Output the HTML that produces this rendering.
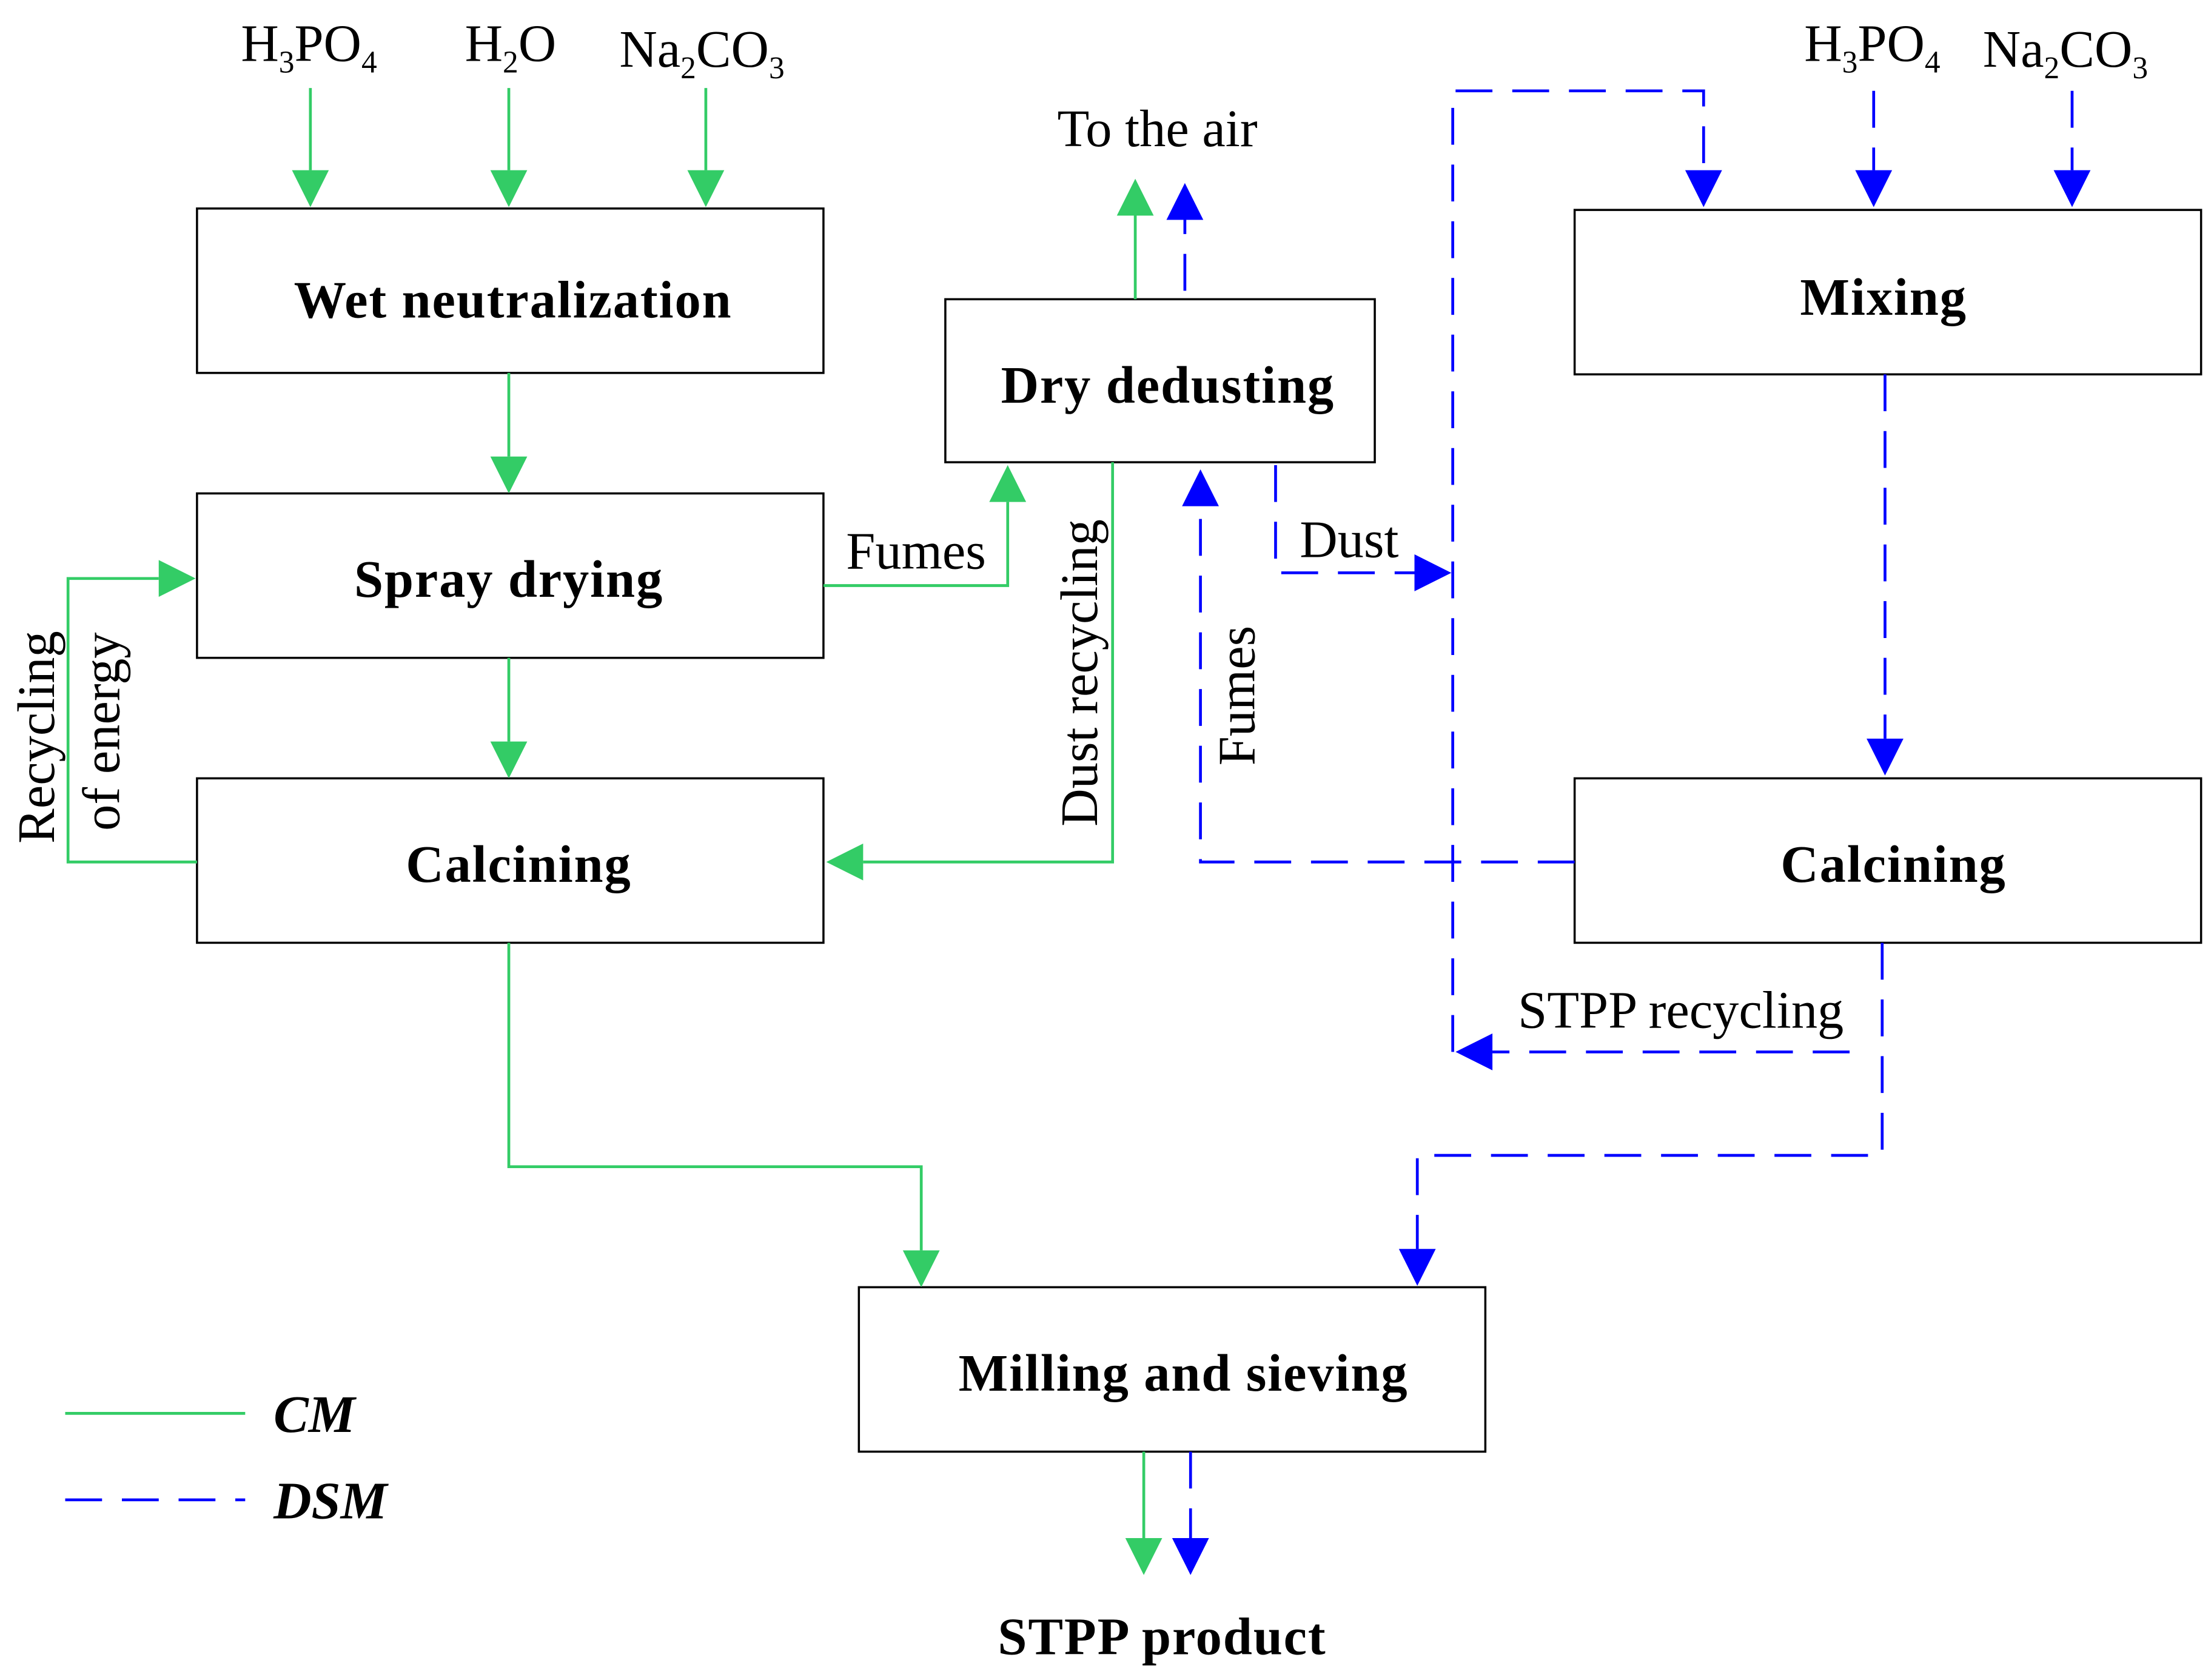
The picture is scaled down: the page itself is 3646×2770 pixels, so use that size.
<!DOCTYPE html>
<html><head><meta charset="utf-8"><style>
html,body{margin:0;padding:0;background:#fff;}
svg{display:block;}
text{font-family:"Liberation Serif",serif;}
.b{font-weight:bold;font-size:37px;letter-spacing:0.8px;}
.l{font-size:37px;}
</style></head><body>
<svg width="3646" height="2770" viewBox="0 0 1560 1185" xmlns="http://www.w3.org/2000/svg">
<g fill="none" stroke="#000" stroke-width="1.5">
<rect x="139" y="147" width="442" height="116"/>
<rect x="139" y="348" width="442" height="116"/>
<rect x="139" y="549" width="442" height="116"/>
<rect x="667" y="211" width="303" height="115"/>
<rect x="1111" y="148" width="442" height="116"/>
<rect x="1111" y="549" width="442" height="116"/>
<rect x="606" y="908" width="442" height="116"/>
</g>
<g text-anchor="middle">
<text x="362" y="224" class="b">Wet neutralization</text>
<text x="359" y="421" class="b">Spray drying</text>
<text x="366" y="622" class="b">Calcining</text>
<text x="824" y="284" class="b">Dry dedusting</text>
<text x="1329" y="222" class="b">Mixing</text>
<text x="1336" y="622" class="b">Calcining</text>
<text x="835" y="981" class="b">Milling and sieving</text>
<text x="820" y="1167" class="b">STPP product</text>
</g>
<g stroke="#33cc66" stroke-width="2" fill="none">
<path d="M219 62V120M359 62V120M498 62V120"/>
<path d="M359 263V322M359 464V523"/>
<path d="M139 608H48V408H112"/>
<path d="M581 413H711V354"/>
<path d="M801 211V152"/>
<path d="M785 326V608H609"/>
<path d="M359 665V823H650V882"/>
<path d="M807 1024V1085"/>
<path d="M46 997H173"/>
</g>
<g fill="#33cc66">
<path d="M206 120H232L219 146Z"/><path d="M346 120H372L359 146Z"/><path d="M485 120H511L498 146Z"/>
<path d="M346 322H372L359 348Z"/><path d="M346 523H372L359 549Z"/>
<path d="M112 395V421L138 408Z"/>
<path d="M698 354H724L711 328Z"/>
<path d="M788 152H814L801 126Z"/>
<path d="M609 595V621L583 608Z"/>
<path d="M637 882H663L650 908Z"/>
<path d="M794 1085H820L807 1111Z"/>
</g>
<g stroke="#0000ff" stroke-width="2" fill="none" stroke-dasharray="26,14">
<path d="M836 205V155"/>
<path d="M1111 608H847V357"/>
<path d="M900 328V404H998"/>
<path d="M1025 742V64H1202V120"/>
<path d="M1322 64V120M1462 64V120"/>
<path d="M1330 264V521"/>
<path d="M1328 665V815H1000V881"/>
<path d="M1305 742H1053"/>
<path d="M840 1024V1085"/>
<path d="M46 1058H173"/>
</g>
<g fill="#0000ff">
<path d="M823 155H849L836 129Z"/>
<path d="M834 357H860L847 331Z"/>
<path d="M998 391V417L1024 404Z"/>
<path d="M1189 120H1215L1202 146Z"/><path d="M1309 120H1335L1322 146Z"/><path d="M1449 120H1475L1462 146Z"/>
<path d="M1317 521H1343L1330 547Z"/>
<path d="M987 881H1013L1000 907Z"/>
<path d="M1053 729V755L1027 742Z"/>
<path d="M827 1085H853L840 1111Z"/>
</g>
<g>
<text x="170" y="43" class="l">H<tspan font-size="22" dy="8">3</tspan><tspan dy="-8">PO</tspan><tspan font-size="22" dy="8">4</tspan></text>
<text x="328" y="43" class="l">H<tspan font-size="22" dy="8">2</tspan><tspan dy="-8">O</tspan></text>
<text x="437" y="47" class="l">Na<tspan font-size="22" dy="8">2</tspan><tspan dy="-8">CO</tspan><tspan font-size="22" dy="8">3</tspan></text>
<text x="1273" y="43" class="l">H<tspan font-size="22" dy="8">3</tspan><tspan dy="-8">PO</tspan><tspan font-size="22" dy="8">4</tspan></text>
<text x="1399" y="47" class="l">Na<tspan font-size="22" dy="8">2</tspan><tspan dy="-8">CO</tspan><tspan font-size="22" dy="8">3</tspan></text>
<text x="746" y="103" class="l">To the air</text>
<text x="597" y="401" class="l">Fumes</text>
<text x="917" y="393" class="l">Dust</text>
<text x="1071" y="725" class="l">STPP recycling</text>
<text transform="translate(774,583) rotate(-90)" class="l">Dust recycling</text>
<text transform="translate(885,540) rotate(-90)" class="l">Fumes</text>
<text transform="translate(38,595) rotate(-90)" class="l">Recycling</text>
<text transform="translate(84,586) rotate(-90)" class="l">of energy</text>
<text x="193" y="1010" class="l" font-weight="bold" font-style="italic">CM</text>
<text x="193" y="1071" class="l" font-weight="bold" font-style="italic">DSM</text>
</g>
</svg>
</body></html>
